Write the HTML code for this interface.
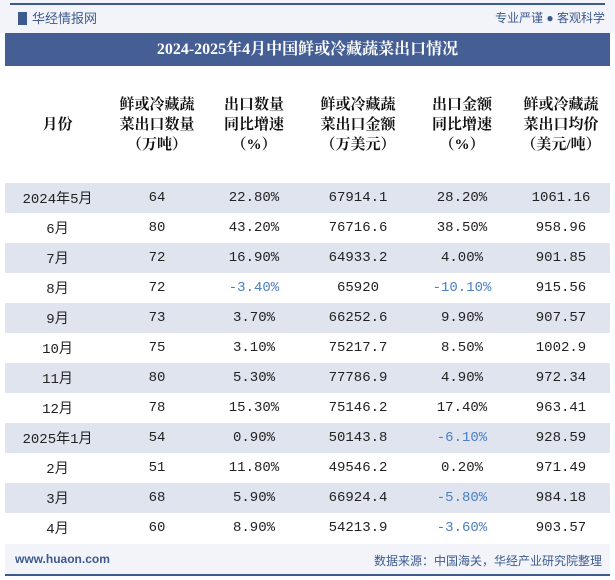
<!DOCTYPE html>
<html><head><meta charset="utf-8"><style>
*{margin:0;padding:0;box-sizing:border-box}
body{width:615px;height:580px;background:#fff;font-family:"Liberation Sans","Noto Sans CJK SC",sans-serif;position:relative;overflow:hidden}
#top{position:absolute;left:0;top:0;width:615px;height:33px;background:#f2f4f9}
#topline{position:absolute;left:10px;top:3px;width:595px;height:2px;background:#3d5a8f}
#logo{position:absolute;left:18px;top:8px;font-size:13px;color:#3d5a8f}
#slogan{position:absolute;right:10px;top:9px;font-size:12px;color:#3d5a8f}
#title{position:absolute;left:5px;top:33px;width:605px;height:33px;background:#455f95;color:#fff;font-weight:bold;font-size:16px;text-align:center;line-height:33px;font-family:"Liberation Serif","Noto Serif CJK SC",serif}
table{position:absolute;left:5px;top:66px;width:605px;border-collapse:collapse}
th{height:117px;font-weight:bold;font-size:15px;color:#111;line-height:20px;font-family:"Liberation Serif","Noto Serif CJK SC",serif}
td{height:30px;text-align:center;font-size:14px;color:#222;font-family:"Liberation Mono","Noto Sans CJK SC",monospace}
tr.s td{background:#dfe4ee}
td.n{color:#4a7fc4}
#foot{position:absolute;left:5px;top:544px;width:605px;height:30px;background:#f2f4f9}
#fl{position:absolute;left:10px;top:8px;font-size:12px;color:#3d5a8f;font-weight:bold}
#fr{position:absolute;right:8px;top:8px;font-size:12px;color:#3d5a8f}
#botline{position:absolute;left:5px;top:574px;width:605px;height:2px;background:#3d5a8f}
</style></head><body>
<div id="top"></div>
<div id="topline"></div>
<div id="logo"><span style="display:inline-block;width:9px;height:13px;background:#3d5a8f;vertical-align:-2px;margin-right:5px"></span>华经情报网</div>
<div id="slogan">专业严谨 ● 客观科学</div>
<div id="title">2024-2025年4月中国鲜或冷藏蔬菜出口情况</div>
<table>
<colgroup><col style="width:105px"><col style="width:94px"><col style="width:100px"><col style="width:108px"><col style="width:100px"><col style="width:98px"></colgroup>
<tr><th>月份</th><th>鲜或冷藏蔬<br>菜出口数量<br>（万吨）</th><th>出口数量<br>同比增速<br>（%）</th><th>鲜或冷藏蔬<br>菜出口金额<br>（万美元）</th><th>出口金额<br>同比增速<br>（%）</th><th>鲜或冷藏蔬<br>菜出口均价<br>（美元/吨）</th></tr>
<tr class="s"><td>2024年5月</td><td>64</td><td>22.80%</td><td>67914.1</td><td>28.20%</td><td>1061.16</td></tr>
<tr><td>6月</td><td>80</td><td>43.20%</td><td>76716.6</td><td>38.50%</td><td>958.96</td></tr>
<tr class="s"><td>7月</td><td>72</td><td>16.90%</td><td>64933.2</td><td>4.00%</td><td>901.85</td></tr>
<tr><td>8月</td><td>72</td><td class="n">-3.40%</td><td>65920</td><td class="n">-10.10%</td><td>915.56</td></tr>
<tr class="s"><td>9月</td><td>73</td><td>3.70%</td><td>66252.6</td><td>9.90%</td><td>907.57</td></tr>
<tr><td>10月</td><td>75</td><td>3.10%</td><td>75217.7</td><td>8.50%</td><td>1002.9</td></tr>
<tr class="s"><td>11月</td><td>80</td><td>5.30%</td><td>77786.9</td><td>4.90%</td><td>972.34</td></tr>
<tr><td>12月</td><td>78</td><td>15.30%</td><td>75146.2</td><td>17.40%</td><td>963.41</td></tr>
<tr class="s"><td>2025年1月</td><td>54</td><td>0.90%</td><td>50143.8</td><td class="n">-6.10%</td><td>928.59</td></tr>
<tr><td>2月</td><td>51</td><td>11.80%</td><td>49546.2</td><td>0.20%</td><td>971.49</td></tr>
<tr class="s"><td>3月</td><td>68</td><td>5.90%</td><td>66924.4</td><td class="n">-5.80%</td><td>984.18</td></tr>
<tr><td>4月</td><td>60</td><td>8.90%</td><td>54213.9</td><td class="n">-3.60%</td><td>903.57</td></tr>
</table>
<div id="foot"><span id="fl">www.huaon.com</span><span id="fr">数据来源：中国海关，华经产业研究院整理</span></div>
<div id="botline"></div>
</body></html>
